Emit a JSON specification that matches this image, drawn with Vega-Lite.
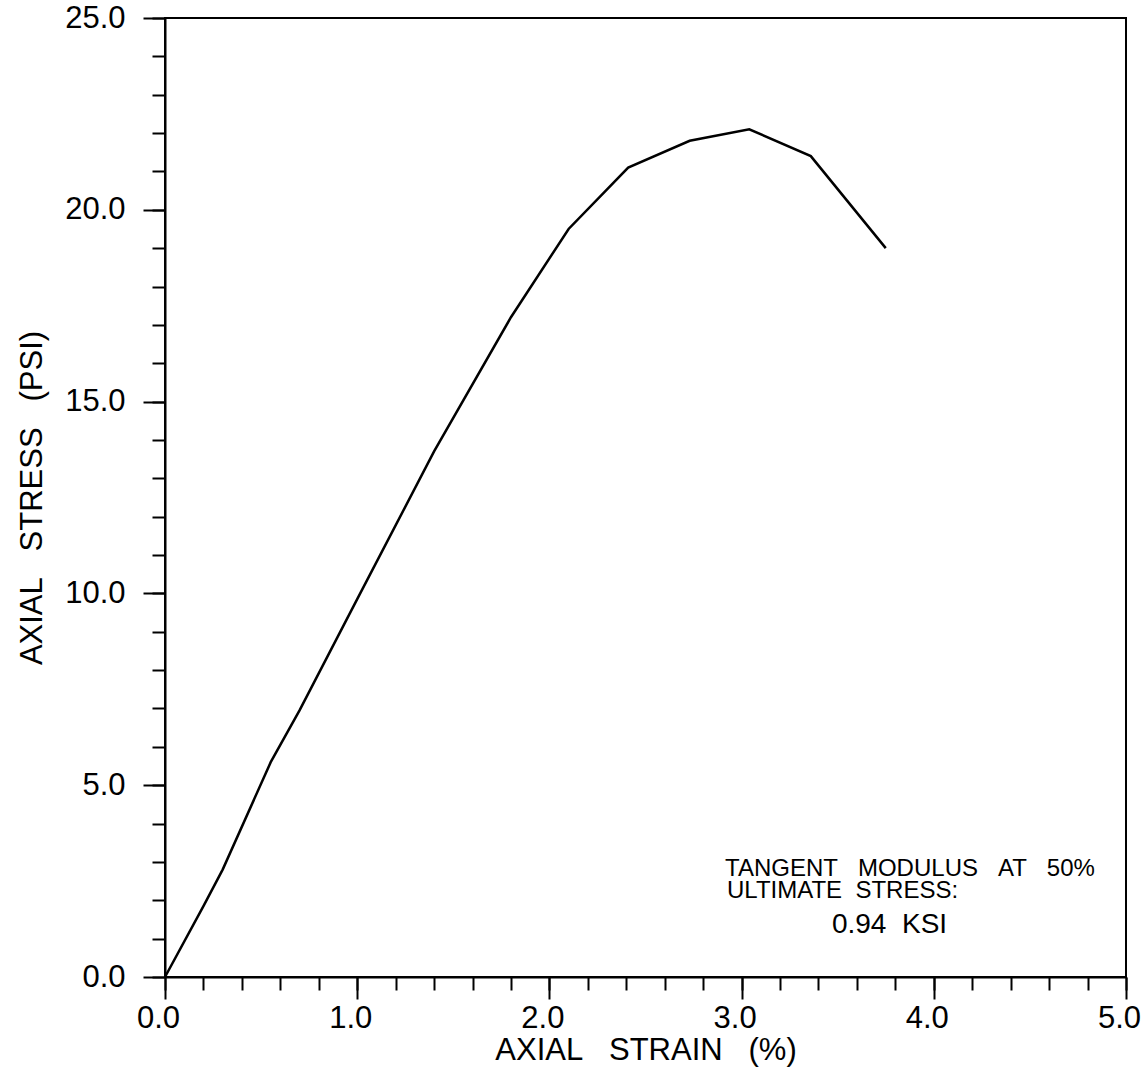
{
  "$schema": "https://vega.github.io/schema/vega-lite/v6.json",
  "width": 961,
  "height": 959,
  "autosize": {"type": "none"},
  "padding": {"left": 165, "top": 18, "right": 20, "bottom": 101},
  "background": "white",
  "config": {
    "view": {"stroke": "black", "strokeWidth": 2},
    "font": "Liberation Sans"
  },
  "resolve": {"axis": {"x": "independent", "y": "independent"}},
  "layer": [
    {
      "data": {
        "values": [
          {"strain": 0, "stress": 0},
          {"strain": 0.2, "stress": 1.85},
          {"strain": 0.3, "stress": 2.8},
          {"strain": 0.55, "stress": 5.6},
          {"strain": 0.7, "stress": 6.95},
          {"strain": 1.0, "stress": 9.85},
          {"strain": 1.4, "stress": 13.7},
          {"strain": 1.8, "stress": 17.2},
          {"strain": 2.1, "stress": 19.5},
          {"strain": 2.41, "stress": 21.1},
          {"strain": 2.73, "stress": 21.8},
          {"strain": 3.04, "stress": 22.1},
          {"strain": 3.36, "stress": 21.4},
          {"strain": 3.75, "stress": 19.0}
        ]
      },
      "mark": {"type": "line", "color": "black", "strokeWidth": 2.5},
      "encoding": {
        "x": {
          "field": "strain", "type": "quantitative",
          "scale": {"domain": [0, 5], "nice": false, "zero": false},
          "axis": {
            "orient": "bottom",
            "values": [0, 1, 2, 3, 4, 5], "format": ".1f",
            "tickSize": 22, "tickWidth": 2, "tickColor": "black",
            "domainColor": "black", "domainWidth": 2,
            "labelFontSize": 31, "labelColor": "black", "labelPadding": 4,
            "labelOffset": -7,
            "labelFlush": false, "labelOverlap": false,
            "grid": false,
            "title": "AXIAL\u00a0\u00a0\u00a0STRAIN\u00a0\u00a0\u00a0(%)",
            "titleFontSize": 31, "titleFontWeight": "normal", "titleColor": "black",
            "titleBaseline": "alphabetic", "titleY": 82
          }
        },
        "y": {
          "field": "stress", "type": "quantitative",
          "scale": {"domain": [0, 25], "nice": false, "zero": false},
          "axis": {
            "orient": "left",
            "values": [0, 5, 10, 15, 20, 25], "format": ".1f",
            "tickSize": 22, "tickWidth": 2, "tickColor": "black",
            "domainColor": "black", "domainWidth": 2,
            "labelFontSize": 31, "labelColor": "black", "labelPadding": 18,
            "labelFlush": false, "labelOverlap": false,
            "grid": false,
            "title": "AXIAL\u00a0\u00a0\u00a0STRESS\u00a0\u00a0\u00a0(PSI)",
            "titleFontSize": 31, "titleFontWeight": "normal", "titleColor": "black",
            "titleBaseline": "alphabetic", "titleX": -124, "titleY": 479.5, "titleAngle": 270
          }
        }
      }
    },
    {
      "data": {"values": [{"note": "line1"}]},
      "mark": {"type": "text", "align": "left", "baseline": "alphabetic", "fontSize": 24, "color": "black"},
      "encoding": {
        "x": {
          "datum": 2.914, "type": "quantitative",
          "axis": {
            "orient": "bottom",
            "values": [0, 0.2, 0.4, 0.6, 0.8, 1, 1.2, 1.4, 1.6, 1.8, 2, 2.2, 2.4, 2.6, 2.8, 3, 3.2, 3.4, 3.6, 3.8, 4, 4.2, 4.4, 4.6, 4.8, 5],
            "labels": false, "domain": false, "grid": false, "title": null,
            "tickSize": 13, "tickWidth": 2, "tickColor": "black"
          }
        },
        "y": {
          "datum": 2.62, "type": "quantitative",
          "axis": {
            "orient": "left",
            "values": [0, 1, 2, 3, 4, 5, 6, 7, 8, 9, 10, 11, 12, 13, 14, 15, 16, 17, 18, 19, 20, 21, 22, 23, 24, 25],
            "labels": false, "domain": false, "grid": false, "title": null,
            "tickSize": 13, "tickWidth": 2, "tickColor": "black"
          }
        },
        "text": {"value": "TANGENT\u00a0\u00a0\u00a0MODULUS\u00a0\u00a0\u00a0AT\u00a0\u00a0\u00a050%"}
      }
    },
    {
      "data": {"values": [{"note": "line2"}]},
      "mark": {"type": "text", "align": "left", "baseline": "alphabetic", "fontSize": 24, "color": "black"},
      "encoding": {
        "x": {"datum": 2.924, "type": "quantitative", "axis": null},
        "y": {"datum": 2.05, "type": "quantitative", "axis": null},
        "text": {"value": "ULTIMATE\u00a0\u00a0STRESS:"}
      }
    },
    {
      "data": {"values": [{"note": "line3"}]},
      "mark": {"type": "text", "align": "left", "baseline": "alphabetic", "fontSize": 28, "color": "black"},
      "encoding": {
        "x": {"datum": 3.47, "type": "quantitative", "axis": null},
        "y": {"datum": 1.147, "type": "quantitative", "axis": null},
        "text": {"value": "0.94\u00a0\u00a0KSI"}
      }
    }
  ]
}
